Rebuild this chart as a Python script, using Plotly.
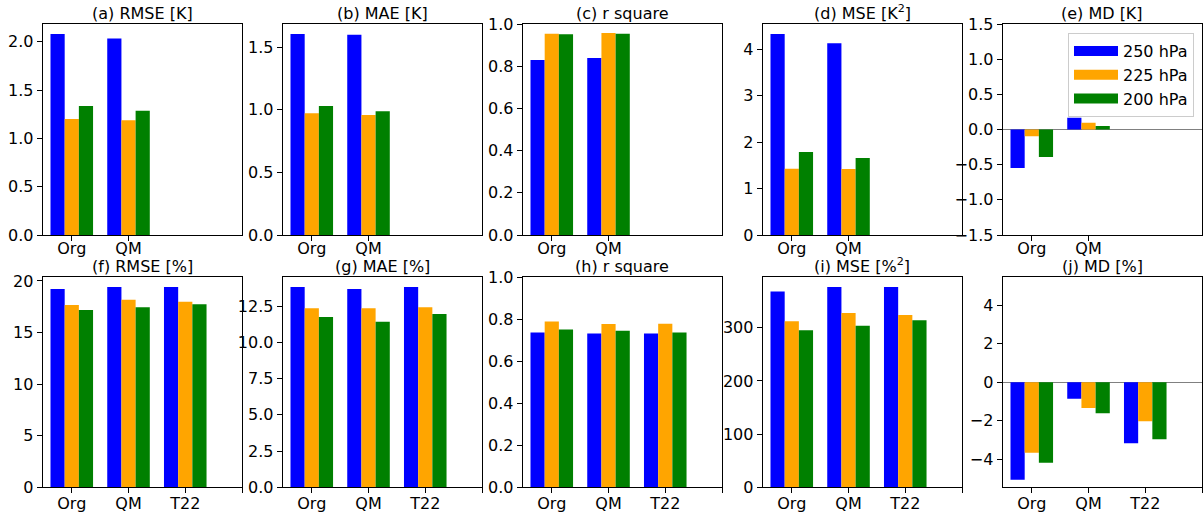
import plotly.graph_objects as go

# ---------------- data ----------------
levels = ["250 hPa", "225 hPa", "200 hPa"]
colors = ["#0000ff", "#ffa500", "#008000"]

cats_top = ["Org", "QM"]
cats_bot = ["Org", "QM", "T22"]

# top row (temperature, K)
rmse_k = [[2.08, 2.034], [1.20, 1.188], [1.334, 1.286]]
mae_k = [[1.604, 1.599], [0.971, 0.958], [1.030, 0.987]]
r2_k = [[0.829, 0.839], [0.954, 0.957], [0.951, 0.954]]
mse_k = [[4.33, 4.13], [1.427, 1.42], [1.788, 1.658]]
md_k = [[-0.547, 0.167], [-0.095, 0.095], [-0.39, 0.048]]

# bottom row (humidity, %)
rmse_p = [[19.22, 19.41, 19.41], [17.66, 18.17, 17.99], [17.18, 17.44, 17.73]]
mae_p = [[13.81, 13.68, 13.81], [12.34, 12.34, 12.41], [11.74, 11.42, 11.95]]
r2_p = [[0.736, 0.731, 0.731], [0.788, 0.777, 0.778], [0.750, 0.745, 0.736]]
mse_p = [[368.0, 376.5, 376.5], [312.0, 327.6, 323.8], [295.0, 303.7, 313.9]]
md_p = [[-5.08, -0.87, -3.18], [-3.67, -1.35, -2.04], [-4.19, -1.62, -2.97]]

titles = ["(a) RMSE [K]", "(b) MAE [K]", "(c) r square", "(d) MSE [K<sup>2</sup>]", "(e) MD [K]",
          "(f) RMSE [%]", "(g) MAE [%]", "(h) r square", "(i) MSE [%<sup>2</sup>]", "(j) MD [%]"]

panels = [
    (rmse_k, cats_top, None, 0.5, ".1f"),
    (mae_k, cats_top, None, 0.5, ".1f"),
    (r2_k, cats_top, [0, 1], 0.2, ".1f"),
    (mse_k, cats_top, None, 1, "d"),
    (md_k, cats_top, [-1.5, 1.5], 0.5, ".1f"),
    (rmse_p, cats_bot, None, 5, "d"),
    (mae_p, cats_bot, None, 2.5, ".1f"),
    (r2_p, cats_bot, [0, 1], 0.2, ".1f"),
    (mse_p, cats_bot, None, 100, "d"),
    (md_p, cats_bot, [-5.47, 5.47], 2, "d"),
]

# ---------------- layout geometry (pixels) ----------------
W, H = 1203, 513
FONT = "DejaVu Sans"
FS = 16
left0, pw, step = 42.7, 199.3, 240.0
rows_px = [(24.0, 235.0), (277.0, 487.3)]
xrange_ = [-0.5125, 3.0]

fig = go.Figure()
layout = dict(
    width=W, height=H,
    margin=dict(l=0, r=0, t=0, b=0, autoexpand=False),
    paper_bgcolor="white", plot_bgcolor="white",
    barmode="group", bargap=0.25, bargroupgap=0,
    font=dict(family=FONT, size=FS, color="black"),
    showlegend=True,
    legend=dict(
        x=1068 / W, y=1 - 33 / H, xanchor="left", yanchor="top",
        bgcolor="rgba(255,255,255,0.8)", bordercolor="#cccccc", borderwidth=1,
        font=dict(family=FONT, size=FS, color="black"),
        itemwidth=44, tracegroupgap=0,
    ),
)
annotations = []

# legend keys (wide patches as in the reference)
for s in range(3):
    fig.add_trace(go.Scatter(
        x=[None], y=[None], mode="lines", name=levels[s],
        line=dict(color=colors[s], width=11),
        xaxis="x5", yaxis="y5", legendgroup=levels[s], showlegend=True,
        hoverinfo="skip",
    ))

for k, (vals, cats, yr, dt, fmt) in enumerate(panels):
    row, col = divmod(k, 5)
    n = k + 1
    xa = "xaxis" if n == 1 else f"xaxis{n}"
    ya = "yaxis" if n == 1 else f"yaxis{n}"
    xr = "x" if n == 1 else f"x{n}"
    yr_ = "y" if n == 1 else f"y{n}"
    x0 = (left0 + step * col) / W
    x1 = (left0 + step * col + pw) / W
    top, bot = rows_px[row]
    y0 = 1 - bot / H
    y1 = 1 - top / H

    xpos = list(range(len(cats)))
    for s in range(3):
        fig.add_trace(go.Bar(
            x=xpos, y=vals[s], name=levels[s],
            marker=dict(color=colors[s], line=dict(width=0)),
            xaxis=xr, yaxis=yr_,
            legendgroup=levels[s], showlegend=False,
        ))

    if yr is None:
        vmax = max(max(v) for v in vals)
        yrange = [0, vmax * 1.05]
    else:
        yrange = yr
    zero = yrange[0] < 0
    xaxis_cfg = dict(
        domain=[x0, x1], anchor=yr_, range=xrange_, automargin=False,
        tickmode="array", tickvals=xpos, ticktext=cats,
        showline=True, mirror=True, linecolor="black", linewidth=1.1,
        ticks="outside", ticklen=5, tickwidth=1.1, tickcolor="black",
        showgrid=False, zeroline=False, ticklabelstandoff=(-6 if row == 0 else -4),
        tickfont=dict(family=FONT, size=FS, color="black"),
    )
    if row == 1:
        xaxis_cfg["minor"] = dict(tickvals=[len(cats)], ticks="outside", ticklen=5,
                                  tickwidth=1.1, tickcolor="black", showgrid=False)
    layout[xa] = xaxis_cfg
    layout[ya] = dict(
        domain=[y0, y1], anchor=xr, range=yrange, automargin=False,
        dtick=dt, tick0=0, tickformat=fmt,
        showline=True, mirror=True, linecolor="black", linewidth=1.1,
        ticks="outside", ticklen=5, tickwidth=1.1, tickcolor="black",
        showgrid=False,
        zeroline=zero, zerolinecolor="#808080", zerolinewidth=1.2,
        tickfont=dict(family=FONT, size=FS, color="black"),
    )
    annotations.append(dict(
        text=titles[k], x=(x0 + x1) / 2, y=y1, xref="paper", yref="paper",
        xanchor="center", yanchor="bottom", yshift=0, showarrow=False, borderpad=0,
        font=dict(family=FONT, size=FS, color="black"),
    ))

layout["annotations"] = annotations
fig.update_layout(**layout)
fig.write_html(
    "out.html",
    config={"displayModeBar": False},
    post_script="document.body.style.margin='0';document.body.style.padding='0';"
                "document.body.style.overflow='hidden';",
)
